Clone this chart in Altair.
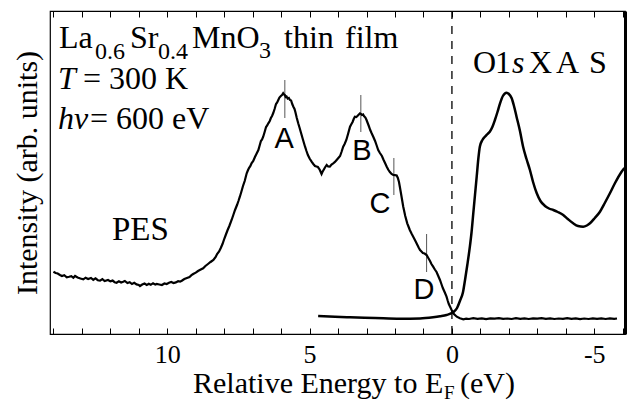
import altair as alt
import pandas as pd

# ---------------- data ----------------
pes_energy = [14.00, 13.92, 13.85, 13.77, 13.70, 13.62, 13.53, 13.45, 13.37, 13.30, 13.24, 13.15, 13.05, 12.95,
              12.87, 12.78, 12.68, 12.60, 12.52, 12.44, 12.36, 12.28, 12.20, 12.08, 12.00, 11.92, 11.85, 11.78,
              11.70, 11.62, 11.55, 11.49, 11.40, 11.32, 11.24, 11.16, 11.08, 11.00, 10.96, 10.88, 10.80, 10.72,
              10.65, 10.58, 10.50, 10.42, 10.37, 10.28, 10.19, 10.10, 10.02, 9.94, 9.86, 9.78, 9.70, 9.62, 9.55,
              9.49, 9.40, 9.31, 9.22, 9.15, 9.09, 9.00, 8.92, 8.84, 8.74, 8.66, 8.57, 8.48, 8.38, 8.30, 8.25,
              8.18, 8.12, 8.06, 8.00, 7.94, 7.88, 7.82, 7.74, 7.68, 7.62, 7.55, 7.50, 7.45, 7.40, 7.34, 7.28,
              7.21, 7.17, 7.13, 7.08, 7.04, 6.98, 6.92, 6.86, 6.80, 6.75, 6.71, 6.67, 6.63, 6.58, 6.53, 6.49,
              6.45, 6.40, 6.36, 6.32, 6.28, 6.23, 6.18, 6.14, 6.10, 6.06, 6.01, 5.97, 5.93, 5.90, 5.87, 5.84,
              5.81, 5.77, 5.73, 5.69, 5.65, 5.61, 5.57, 5.53, 5.50, 5.45, 5.40, 5.35, 5.30, 5.24, 5.16, 5.11,
              5.06, 5.00, 4.93, 4.87, 4.81, 4.76, 4.71, 4.67, 4.64, 4.61, 4.58, 4.55, 4.51, 4.46, 4.40, 4.35,
              4.29, 4.23, 4.17, 4.11, 4.05, 3.99, 3.93, 3.88, 3.82, 3.77, 3.71, 3.65, 3.58, 3.53, 3.49, 3.45,
              3.41, 3.36, 3.32, 3.27, 3.23, 3.19, 3.16, 3.12, 3.09, 3.04, 3.00, 2.96, 2.92, 2.87, 2.82, 2.76,
              2.70, 2.65, 2.59, 2.53, 2.46, 2.40, 2.35, 2.29, 2.24, 2.18, 2.12, 2.06, 2.00, 1.94, 1.90, 1.86,
              1.83, 1.78, 1.71, 1.64, 1.57, 1.52, 1.48, 1.42, 1.36, 1.30, 1.23, 1.17, 1.12, 1.07, 1.02, 0.96,
              0.89, 0.83, 0.77, 0.72, 0.66, 0.60, 0.54, 0.48, 0.42, 0.37, 0.32, 0.25, 0.19, 0.15, 0.11, 0.06,
              0.01, -0.07, -0.17, -0.28, -0.40, -0.50, -0.60, -0.75, -0.90, -1.05, -1.20, -1.35, -1.50, -1.65,
              -1.80, -1.95, -2.10, -2.25, -2.40, -2.55, -2.70, -2.85, -3.00, -3.15, -3.30, -3.45, -3.60, -3.75,
              -3.90, -4.05, -4.20, -4.35, -4.50, -4.65, -4.80, -4.95, -5.10, -5.25, -5.40, -5.55, -5.70, -5.80]
pes_intensity = [62.3, 61.0, 60.5, 59.0, 58.0, 58.8, 56.7, 57.2, 57.8, 56.2, 58.0, 56.5, 55.5, 54.7,
                 56.3, 55.0, 56.0, 54.2, 55.6, 53.8, 53.3, 54.8, 53.0, 54.0, 52.6, 53.4, 51.8, 51.3,
                 52.8, 51.5, 52.2, 53.0, 51.0, 51.8, 50.0, 51.2, 49.6, 49.0, 48.0, 49.5, 50.5, 49.0,
                 50.2, 49.2, 50.8, 49.4, 50.0, 49.5, 49.0, 50.5, 50.0, 51.2, 52.0, 51.0, 51.6, 52.8, 52.4,
                 53.3, 55.0, 56.0, 57.0, 58.8, 60.0, 61.4, 63.0, 64.2, 65.7, 68.0, 70.0, 72.0, 74.0, 77.0, 80.0,
                 82.5, 86.0, 90.0, 95.0, 99.5, 104.0, 108.0, 114.0, 119.0, 124.0, 129.0, 133.0, 137.3, 142.0, 148.0, 153.0,
                 160.7, 163.5, 166.0, 168.0, 170.7, 173.0, 177.0, 180.5, 184.0, 189.0, 193.0, 194.5, 197.3, 202.0, 207.0, 208.5,
                 210.7, 213.0, 216.0, 218.0, 220.7, 225.0, 230.0, 231.5, 234.0, 236.5, 238.0, 239.0, 240.7, 239.5, 239.0, 237.0,
                 237.5, 235.5, 236.0, 234.0, 233.5, 230.0, 227.3, 225.0, 222.0, 216.0, 210.7, 206.0, 201.0, 195.0, 187.3, 183.0,
                 179.0, 175.5, 172.3, 170.0, 168.0, 167.5, 167.0, 165.5, 164.0, 162.0, 160.0, 162.0, 164.0, 166.5, 169.0, 167.5,
                 167.3, 169.5, 170.7, 172.0, 174.0, 176.0, 178.0, 182.0, 187.3, 190.0, 194.0, 200.0, 207.3, 210.0, 212.0, 215.0,
                 217.3, 217.0, 218.0, 219.5, 220.7, 220.0, 219.0, 219.5, 218.0, 216.5, 214.0, 211.0, 208.0, 204.0, 200.7, 197.0,
                 193.0, 189.0, 184.0, 181.0, 178.0, 174.0, 171.0, 167.3, 164.5, 162.0, 160.0, 159.0, 158.8, 158.5, 156.0, 152.0,
                 147.3, 139.0, 127.3, 118.0, 110.7, 107.0, 104.0, 100.5, 97.3, 94.0, 90.0, 86.5, 84.0, 82.5, 81.0, 80.5,
                 79.0, 76.0, 73.0, 70.0, 67.3, 64.5, 62.0, 58.0, 54.0, 50.0, 46.0, 41.5, 37.3, 33.5, 30.0, 27.0,
                 24.0, 20.0, 17.3, 15.7, 14.7, 15.4, 15.0, 15.8, 15.2, 15.6, 14.9, 15.7, 15.3, 15.9,
                 15.1, 15.5, 15.0, 15.8, 15.2, 15.6, 15.0, 15.7, 15.3, 15.9, 15.2, 15.6, 15.0, 15.5,
                 15.1, 15.8, 15.2, 15.6, 14.9, 15.5, 15.0, 15.7, 15.1, 15.6, 15.0, 15.7, 15.2, 15.5]

xas_energy = [4.70, 4.11, 3.58, 2.70, 1.83, 1.12, 0.66, 0.42, 0.19, -0.05, -0.18, -0.28, -0.39, -0.46,
              -0.54, -0.63, -0.69, -0.75, -0.81, -0.87, -0.93, -0.98, -1.07, -1.16, -1.25, -1.33, -1.42,
              -1.51, -1.60, -1.69, -1.79, -1.92, -2.00, -2.10, -2.18, -2.27, -2.39, -2.50, -2.62, -2.74,
              -2.85, -2.98, -3.11, -3.27, -3.41, -3.56, -3.72, -3.91, -4.07, -4.26, -4.43, -4.61, -4.74,
              -4.85, -5.02, -5.20, -5.37, -5.55, -5.73, -5.96, -6.06]
xas_intensity = [18.0, 17.2, 16.7, 16.0, 15.3, 15.5, 16.7, 17.7, 19.0, 22.0, 26.0, 33.0, 42.0, 54.0,
                 69.0, 87.3, 102.0, 120.7, 139.0, 157.3, 176.0, 187.3, 194.0, 197.3, 200.0, 202.3, 207.0,
                 214.0, 222.0, 230.7, 238.0, 241.3, 240.0, 235.7, 228.0, 217.3, 203.0, 187.3, 175.0, 164.0,
                 152.0, 140.7, 133.0, 128.0, 125.5, 124.0, 122.0, 119.0, 115.0, 110.7, 108.0, 107.3, 108.5,
                 110.7, 116.0, 122.3, 131.0, 140.7, 151.0, 162.3, 166.0]

marker_names = ["A", "B", "C", "D"]
marker_energy = [5.87, 3.20, 2.04, 0.89]
marker_top = [254, 239, 176, 100]
marker_bottom = [216, 202, 139, 62]
label_energy = [5.89, 3.16, 2.53, 0.98]
label_intensity = [186, 174, 121, 35.5]

x_ticks = list(range(-6, 15))
x_labeled = [10, 5, 0, -5]
fermi_energy = [0]
y_range = [0, 323]

# ---------------- frames ----------------
pes = pd.DataFrame({"E": pes_energy, "I": pes_intensity})
xas = pd.DataFrame({"E": xas_energy, "I": xas_intensity})
markers = pd.DataFrame({"name": marker_names, "E": marker_energy, "top": marker_top,
                        "bottom": marker_bottom, "lE": label_energy, "lI": label_intensity})
fermi = pd.DataFrame({"E": fermi_energy, "y0": [y_range[0]], "y1": [y_range[1]]})

W, H = 575, 323
SERIF = "Liberation Serif"
SANS = "Liberation Sans"

xs = alt.Scale(domain=[14.12, -6.08], nice=False, zero=False)
ys = alt.Scale(domain=y_range, nice=False, zero=False)

lab_list = ",".join(str(v) for v in x_labeled)
label_expr = ("indexof([" + lab_list + "], datum.value) >= 0 ? "
              "(datum.value < 0 ? '-' + abs(datum.value) : '' + datum.value) : ''")

bottom_axis = alt.Axis(orient="bottom", values=x_ticks, offset=-6, tickSize=6, domain=False,
                       grid=False, labelExpr=label_expr, labelFont=SERIF, labelFontSize=26,
                       labelColor="black", labelPadding=7, tickColor="black", tickWidth=1,
                       title=None, labelFlush=False, labelOverlap=False)
top_axis = alt.Axis(orient="top", values=x_ticks, offset=-6, tickSize=6, domain=False,
                    grid=False, labels=False, tickColor="black", tickWidth=1, title=None)
left_axis = alt.Axis(orient="left", labels=False, ticks=False, domain=False, grid=False,
                     title="Intensity (arb. units)", titleFont=SERIF, titleFontSize=30,
                     titleFontWeight="normal", titleColor="black", titlePadding=8)
right_axis = alt.Axis(orient="right", labels=False, ticks=False, domain=True, domainWidth=3,
                      domainColor="black", grid=False, title=None)

pes_line = alt.Chart(pes).mark_line(color="black", strokeWidth=2.2, interpolate="linear").encode(
    x=alt.X("E:Q", scale=xs, axis=bottom_axis),
    y=alt.Y("I:Q", scale=ys, axis=left_axis),
)
xas_line = alt.Chart(xas).mark_line(color="black", strokeWidth=2.5, interpolate="monotone").encode(
    x=alt.X("E:Q", scale=xs, axis=top_axis),
    y=alt.Y("I:Q", scale=ys, axis=right_axis),
)
fermi_rule = alt.Chart(fermi).mark_rule(color="black", strokeWidth=1.3, strokeDash=[8, 7]).encode(
    x=alt.X("E:Q", scale=xs, axis=None),
    y=alt.Y("y0:Q", scale=ys, axis=None),
    y2="y1:Q",
)
marker_rules = alt.Chart(markers).mark_rule(color="#555555", strokeWidth=1).encode(
    x=alt.X("E:Q", scale=xs, axis=None),
    y=alt.Y("bottom:Q", scale=ys, axis=None),
    y2="top:Q",
)
marker_text = alt.Chart(markers).mark_text(font=SANS, fontSize=29, color="black",
                                           align="center", baseline="alphabetic").encode(
    x=alt.X("lE:Q", scale=xs, axis=None),
    y=alt.Y("lI:Q", scale=ys, axis=None),
    text="name:N",
)


def txt(s, x, y, size=32, italic=False, font=SERIF, align="left"):
    props = dict(align=align, baseline="alphabetic", font=font, fontSize=size, color="black")
    if italic:
        props["fontStyle"] = "italic"
    return alt.Chart(pd.DataFrame({"t": [s]})).mark_text(**props).encode(
        text="t:N", x=alt.value(x), y=alt.value(y))


texts = [
    # sample line 1 (x, y in plot-area pixels)
    txt("La", 9, 37), txt("0.6", 45, 48, 24), txt("Sr", 80, 37), txt("0.4", 108, 48, 24),
    txt("MnO", 142, 37), txt("3", 209, 47, 24), txt("thin", 234, 37), txt("film", 295, 37),
    # line 2
    txt("T", 8, 78, italic=True), txt("= 300 K", 33, 78),
    # line 3
    txt("hν", 8, 117.5, italic=True), txt("= 600 eV", 40, 117.5),
    # XAS label
    txt("O", 423, 62), txt("1", 445, 62), txt("s", 462, 62, italic=True),
    txt("X", 479, 62), txt("A", 506, 62), txt("S", 539, 62),
    # PES label
    txt("PES", 62, 229, 33),
    # x title
    txt("Relative Energy to E", 143, 382, 30), txt("F", 394, 388, 19), txt("(eV)", 410, 382, 30),
]

chart = alt.layer(fermi_rule, marker_rules, pes_line, xas_line, marker_text, *texts).resolve_axis(
    x="independent", y="independent"
).properties(
    width=W, height=H, autosize="none",
    padding={"left": 50, "top": 11, "right": 6, "bottom": 67},
).configure_view(stroke="black", strokeWidth=1.2)

chart.save("out.html", embed_options={"renderer": "svg", "actions": False})
